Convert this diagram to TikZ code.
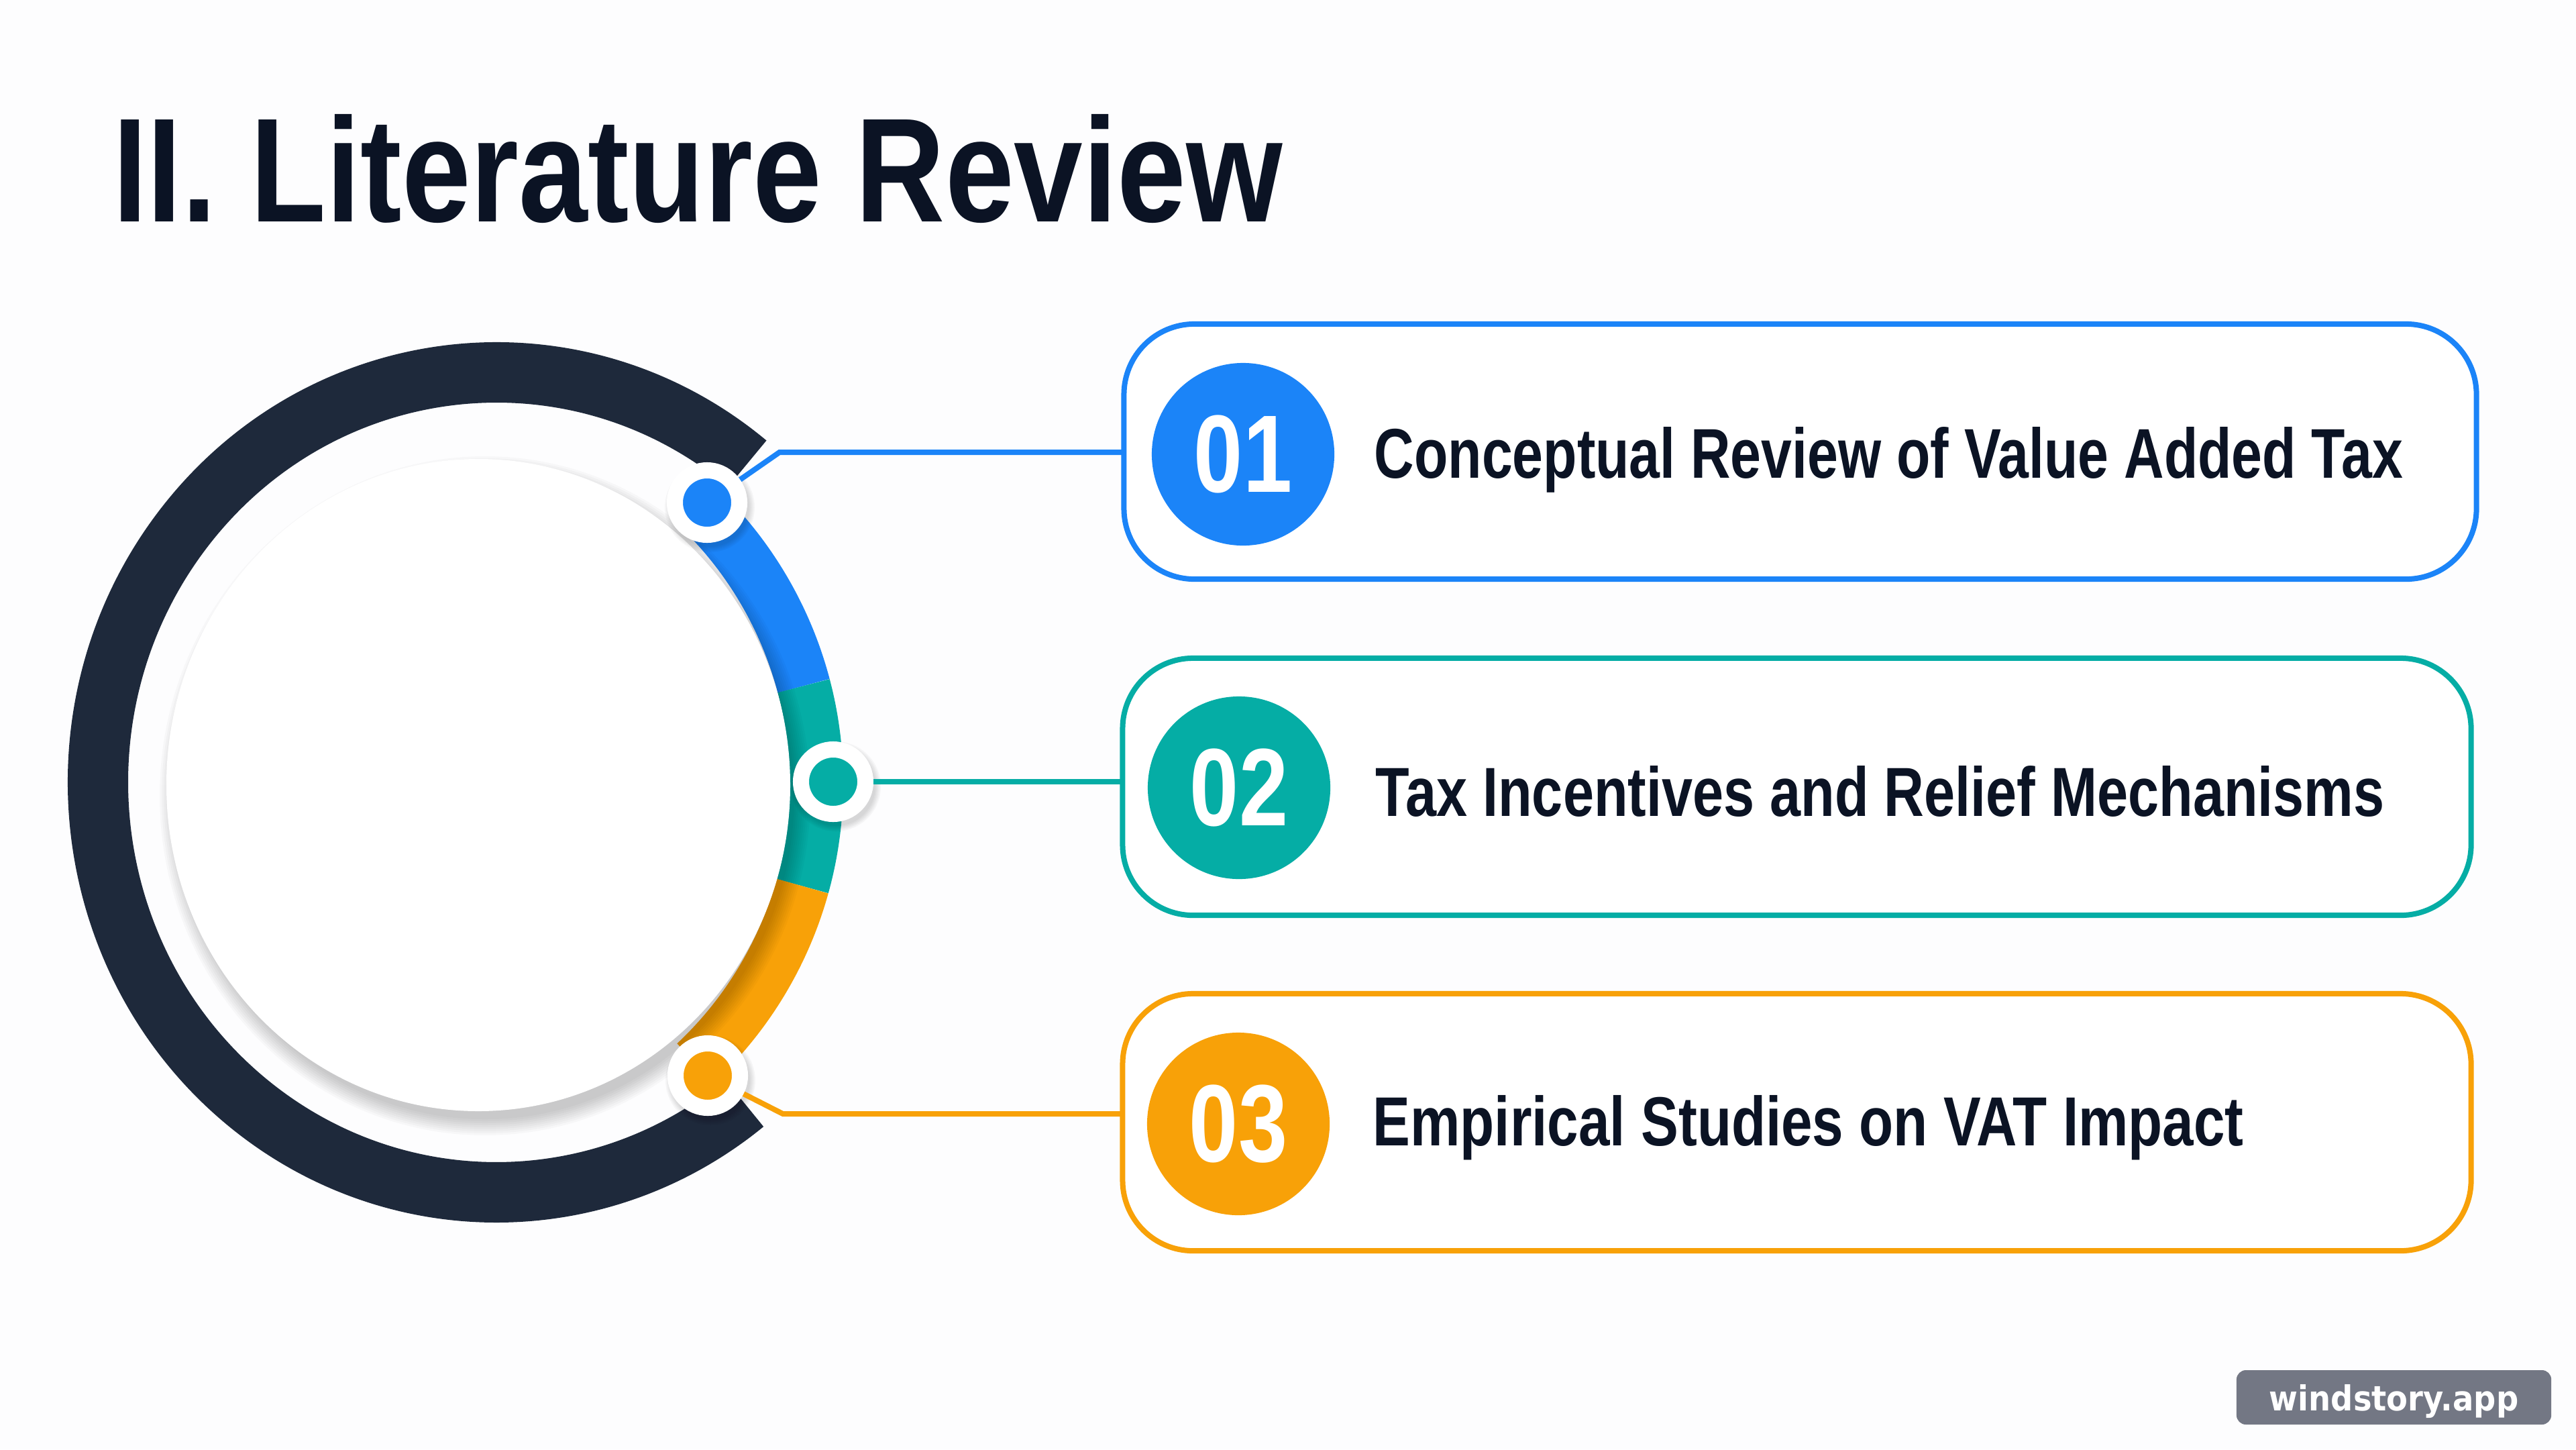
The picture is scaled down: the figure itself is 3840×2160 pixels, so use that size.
\documentclass[tikz,border=0pt]{standalone}
\usepackage{fontspec}
\setmainfont{Liberation Sans}
\newfontfamily\wmfont{DejaVu Sans}
\usepackage{graphicx}
\usetikzlibrary{calc}
\definecolor{bgc}{HTML}{FDFDFE}
\definecolor{navyc}{HTML}{1E293B}
\definecolor{blue1}{HTML}{1B84F8}
\definecolor{teal1}{HTML}{05ADA5}
\definecolor{orange1}{HTML}{F8A108}
\definecolor{ink}{HTML}{0B1324}
\definecolor{wmgray}{HTML}{737784}
\newcommand{\numtxt}[1]{\scalebox{0.80}[1]{\fontsize{46.7pt}{50pt}\selectfont\bfseries #1}}
\begin{document}
\begin{tikzpicture}[x=0.01cm,y=0.01cm,
  boxn/.style={draw, line width=0.08cm, rounded corners=1.05cm, fill=white, inner sep=0, outer sep=0},
  numc/.style={circle, inner sep=0, minimum size=2.72cm, text=white},
  dotn/.style={circle, draw=white, line width=0.24cm, minimum size=0.96cm, inner sep=0, outer sep=0.12cm},
  link/.style={line width=0.08cm},
  lbl/.style={inner sep=0, anchor=base west, text=ink},
  arcseg/.style={line width=0.8cm}
]
\fill[bgc] (0,0) rectangle (3840,-2160);
\useasboundingbox (0,0) rectangle (3840,-2160);

% title
\node[lbl] (title) at (168,-330) {\resizebox{17.42cm}{1.60cm}{\bfseries II. Literature Review}};

% dark ring
\draw[navyc, line width=0.9cm] ($(740,-1166)+(51:594 and 611)$) arc[start angle=51, end angle=308.5, x radius=594, y radius=611];

% coloured arcs
\coordinate (P) at (646,-1168);
\draw[arcseg, blue1] ($(P)+(45.8:571)$) arc[start angle=45.8, end angle=14.8, radius=571];
\draw[arcseg, teal1] ($(P)+(14.8:571)$) arc[start angle=14.8, end angle=-15.5, radius=571];
\draw[arcseg, orange1] ($(P)+(-15.5:571)$) arc[start angle=-15.5, end angle=-46.8, radius=571];

% inner disk with soft shadow
\coordinate (w) at (713,-1170);
\foreach \i in {1,...,9} \fill[black, opacity=0.024] ($(w)+(10,-16)$) ellipse[x radius=458+3*\i, y radius=479+3*\i];
\fill[white] (w) ellipse[x radius=465, y radius=486];

% dots
\coordinate (p1) at (1054,-749);
\coordinate (p2) at (1242,-1165);
\coordinate (p3) at (1055,-1603);
\foreach \c in {p1,p2,p3}{
  \foreach \i in {1,...,5} \fill[black, opacity=0.03] ($(\c)+(4,-7)$) circle[radius=57+2*\i];
}
\node[dotn, fill=blue1] (d1) at (p1) {};
\node[dotn, fill=teal1] (d2) at (p2) {};
\node[dotn, fill=orange1] (d3) at (p3) {};

% boxes
\node[boxn, draw=blue1, minimum width=20.15cm, minimum height=3.80cm] (b1) at (2683.5,-673) {};
\node[boxn, draw=teal1, minimum width=20.09cm, minimum height=3.83cm] (b2) at (2678.5,-1172.5) {};
\node[boxn, draw=orange1, minimum width=20.09cm, minimum height=3.83cm] (b3) at (2678.5,-1672.5) {};

% connectors
\coordinate (k1) at (1162,-674);
\coordinate (k3) at (1167,-1660);
\draw[link, blue1] (d1) -- (k1) -- (k1 -| b1.west);
\draw[link, teal1] (d2) -- (d2 -| b2.west);
\draw[link, orange1] (d3) -- (k3) -- (k3 -| b3.west);

% number circles
\node[numc, fill=blue1] (n1) at (1853,-677) {\numtxt{01}};
\node[numc, fill=teal1] (n2) at (1847,-1174) {\numtxt{02}};
\node[numc, fill=orange1] (n3) at (1846,-1675) {\numtxt{03}};

% labels
\node[lbl] (t1) at (2048,-712) {\resizebox{15.32cm}{0.76cm}{\bfseries Conceptual Review of Value Added Tax}};
\node[lbl] (t2) at (2050,-1216) {\resizebox{15.03cm}{0.75cm}{\bfseries Tax Incentives and Relief Mechanisms}};
\node[lbl] (t3) at (2046,-1707) {\resizebox{12.97cm}{0.75cm}{\bfseries Empirical Studies on VAT Impact}};

% watermark
\node[fill=wmgray, rounded corners=0.14cm, minimum width=4.69cm, minimum height=0.81cm, inner sep=0, text=white, text height=0.39cm, text depth=0cm] (wm) at (3568.5,-2082.5) {\resizebox{3.71cm}{0.39cm}{\wmfont\bfseries windstory.app}};
\end{tikzpicture}
\end{document}
